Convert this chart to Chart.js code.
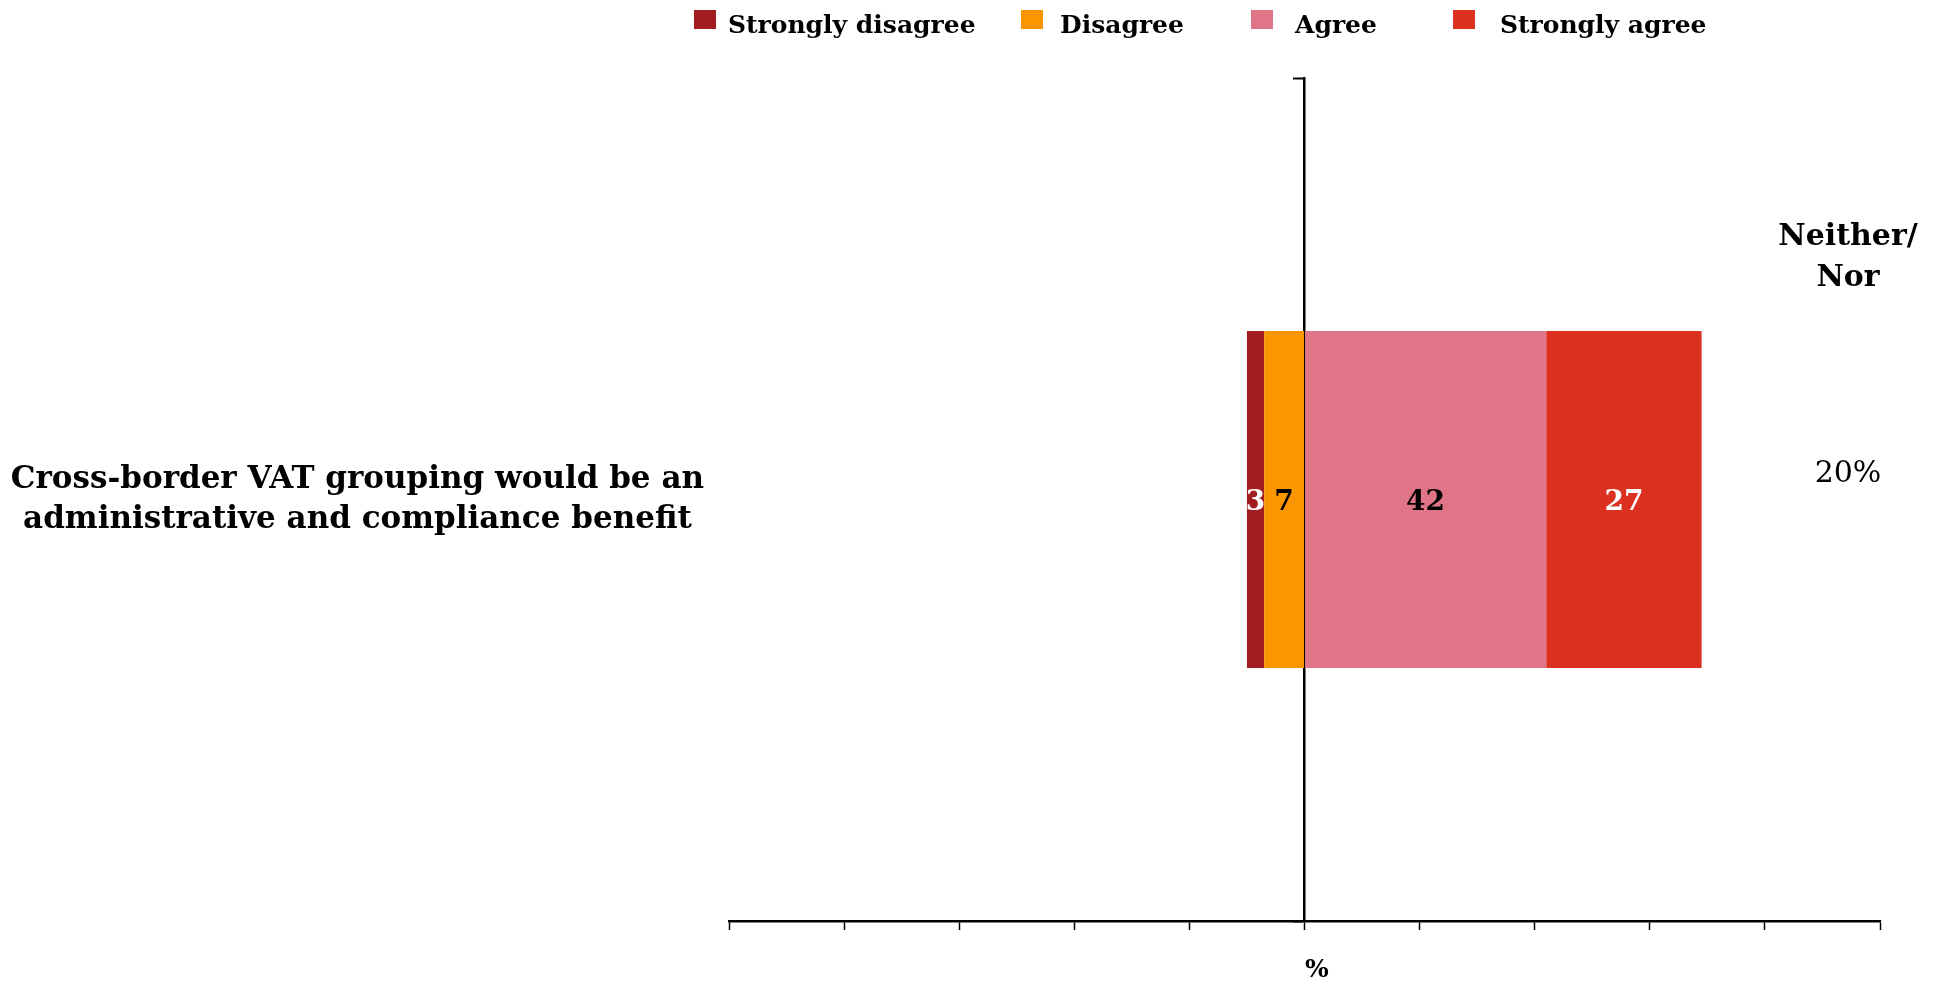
<!DOCTYPE html>
<html>

<head>
    <meta charset="utf-8">
    <title>Cross-border VAT grouping</title>
    <script src="https://cdn.jsdelivr.net/npm/chart.js@4.4.0/dist/chart.umd.min.js"></script>
    <style>
        html, body { margin: 0; padding: 0; background: #fff; }
        #wrap { position: relative; width: 1941px; height: 983px; }
        #legend { position: absolute; top: 0; left: 0; width: 100%; height: 40px;
                  font: bold 25px "DejaVu Serif", serif; color: #000; }
        #legend .box { position: absolute; top: 10px; width: 22px; height: 19px; }
        #legend .txt { position: absolute; top: 10px; line-height: 30px; white-space: nowrap; }
    </style>
</head>

<body>
    <div id="wrap">
        <canvas id="plot"></canvas>
        <div id="legend"></div>
    </div>
    <script>
        // survey statement and answer shares (%)
        const categories = [['Cross-border VAT grouping would be an', 'administrative and compliance benefit']];
        const seriesNames = ['Strongly disagree', 'Disagree', 'Agree', 'Strongly agree'];
        const stronglyDisagree = [3];
        const disagree = [7];
        const agree = [42];
        const stronglyAgree = [27];
        const neitherNor = [20];

        const seriesColors = ['#A21D20', '#F99600', '#E07587', '#DC3120'];
        const legendBoxLeft = [694, 1021, 1251, 1453];
        const legendTextLeft = [728, 1060, 1295, 1500];

        // html legend in survey order
        var legend = document.getElementById('legend')
        seriesNames.forEach(function (name, i) {
            var box = document.createElement('div')
            box.className = 'box'
            box.style.left = legendBoxLeft[i] + 'px'
            box.style.background = seriesColors[i]
            legend.appendChild(box)
            var txt = document.createElement('div')
            txt.className = 'txt'
            txt.style.left = legendTextLeft[i] + 'px'
            txt.textContent = name
            legend.appendChild(txt)
        })

        Chart.defaults.font.family = '"DejaVu Serif", serif'
        Chart.defaults.color = '#000'

        // numbers written inside each bar segment
        const barLabels = {
            id: 'barLabels',
            afterDatasetsDraw(chart) {
                var ctx = chart.ctx
                ctx.save()
                ctx.font = 'bold 28px "DejaVu Serif"'
                ctx.textAlign = 'center'
                ctx.textBaseline = 'middle'
                chart.data.datasets.forEach(function (ds, i) {
                    chart.getDatasetMeta(i).data.forEach(function (bar, j) {
                        var p = bar.getCenterPoint()
                        ctx.fillStyle = ds.labelColor
                        ctx.fillText(Math.abs(ds.data[j]), p.x, p.y + 3)
                    })
                })
                ctx.restore()
            }
        }

        // "Neither/Nor" column on the right
        const neitherColumn = {
            id: 'neitherColumn',
            afterDraw(chart) {
                var ctx = chart.ctx
                var x = chart.chartArea.right - 32
                ctx.save()
                ctx.fillStyle = '#000'
                ctx.textAlign = 'center'
                ctx.textBaseline = 'middle'
                ctx.font = 'bold 30px "DejaVu Serif"'
                ctx.fillText('Neither/', x, 237)
                ctx.fillText('Nor', x, 278)
                ctx.font = '30px "DejaVu Serif"'
                neitherNor.forEach(function (v, i) {
                    ctx.fillText(v + '%', x, chart.scales.y.getPixelForValue(i) - 25)
                })
                ctx.restore()
            }
        }

        // negatives stack outward from zero: disagree sits next to the axis
        var datasets = [
            { label: seriesNames[1], data: disagree.map(v => -v), backgroundColor: seriesColors[1], labelColor: '#000' },
            { label: seriesNames[0], data: stronglyDisagree.map(v => -v), backgroundColor: seriesColors[0], labelColor: '#fff' },
            { label: seriesNames[2], data: agree, backgroundColor: seriesColors[2], labelColor: '#000' },
            { label: seriesNames[3], data: stronglyAgree, backgroundColor: seriesColors[3], labelColor: '#fff' }
        ]

        new Chart(document.getElementById('plot'), {
            type: 'bar',
            data: { labels: categories, datasets: datasets },
            plugins: [barLabels, neitherColumn],
            options: {
                indexAxis: 'y',
                responsive: true,
                maintainAspectRatio: false,
                animation: false,
                categoryPercentage: 0.4,
                barPercentage: 1,
                layout: { padding: { top: 78, right: 61, bottom: 0, left: 0 } },
                plugins: { legend: { display: false }, tooltip: { enabled: false } },
                scales: {
                    x: {
                        stacked: true,
                        min: -100,
                        max: 100,
                        ticks: { display: false, stepSize: 20 },
                        grid: { drawOnChartArea: false, tickLength: 9, tickColor: '#000', tickWidth: 1.5 },
                        border: { color: '#000', width: 2.5 },
                        title: {
                            display: true, text: '\u2003%', color: '#000',
                            font: { weight: 'bold', size: 25, lineHeight: 1 },
                            padding: { top: 0, bottom: 0 }
                        },
                        afterFit(scale) { scale.height = 62 }
                    },
                    y: {
                        stacked: true,
                        position: 'left',
                        grid: { display: false },
                        border: { display: false },
                        ticks: {
                            color: '#000',
                            crossAlign: 'center',
                            padding: 17,
                            font: { weight: 'bold', size: 31, lineHeight: 1.29 }
                        },
                        afterFit(scale) {
                            // the two-line label must not push the plot area in
                            scale.width = 729
                            scale.paddingTop = 0
                            scale.paddingBottom = 0
                        }
                    },
                    y2: {
                        type: 'category',
                        position: { x: 0 },
                        offset: true,
                        z: 1,
                        ticks: { display: false },
                        grid: { offset: true, drawOnChartArea: false, tickLength: 10, tickColor: '#000', tickWidth: 2 },
                        border: { color: '#000', width: 2.5 }
                    },
                    y3: {
                        type: 'category',
                        position: { x: 0 },
                        offset: true,
                        z: 1,
                        ticks: { display: false },
                        grid: { offset: false, drawOnChartArea: false, tickLength: 10, tickColor: '#000', tickWidth: 2 },
                        border: { display: false }
                    }
                }
            }
        })
    </script>
</body>

</html>
